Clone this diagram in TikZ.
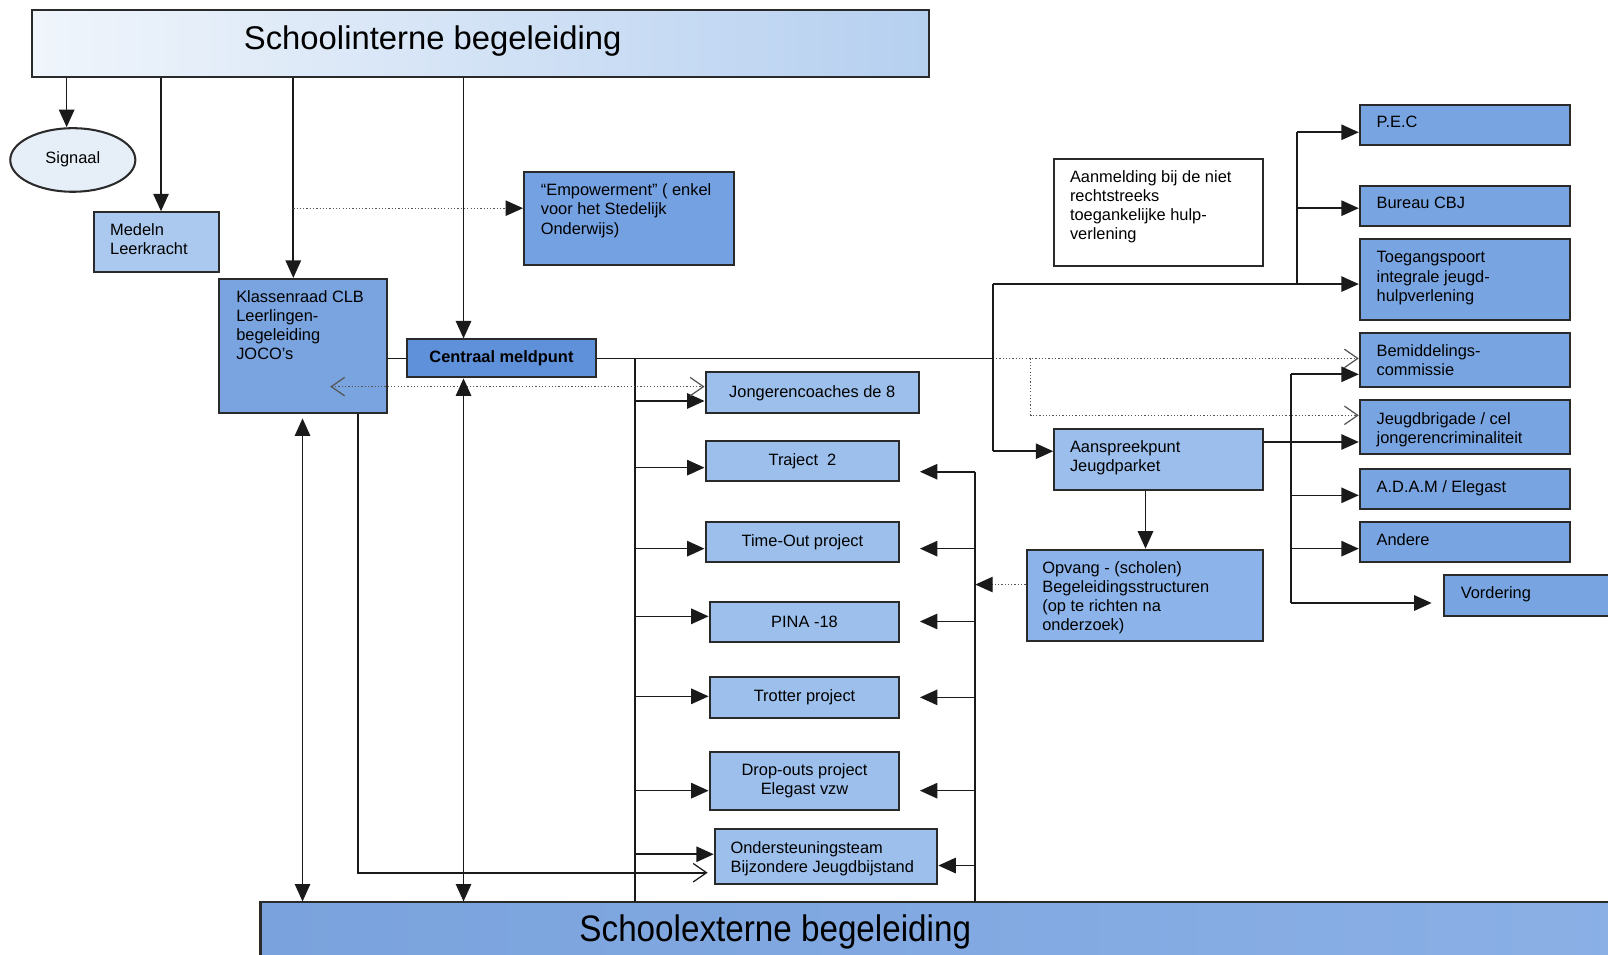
\documentclass[tikz,border=0pt]{standalone}
\usepackage{fontspec}
\setmainfont{Liberation Sans}
\usetikzlibrary{arrows.meta,shapes.geometric}
\definecolor{topL}{HTML}{F0F5FB}
\definecolor{topR}{HTML}{B6D0F0}
\definecolor{botL}{HTML}{7AA2DC}
\definecolor{botR}{HTML}{8AB0E6}
\definecolor{medC}{HTML}{ABC9EE}
\definecolor{klC}{HTML}{79A4E0}
\definecolor{cmC}{HTML}{5F90DA}
\definecolor{empC}{HTML}{74A1E2}
\definecolor{midC}{HTML}{9CBFEC}
\definecolor{rtC}{HTML}{78A5E2}
\definecolor{aspC}{HTML}{9BBEEC}
\definecolor{opvC}{HTML}{8CB4EA}
\definecolor{sigC}{HTML}{E6EFF8}
\definecolor{edgeC}{HTML}{2A2A2A}
\definecolor{lineC}{HTML}{1A1A1A}
\definecolor{dotC}{HTML}{555555}
\newcommand\myBox[7]{%
  \node[#1, minimum width={(#5-#3)*0.5pt}, minimum height={(#6-#4)*0.5pt}] (#2) at ({(#3+#5)/2},{(#4+#6)/2}) {#7};}
\tikzset{
  every node/.style={font=\fontsize{8}{9.3}\selectfont},
  bx/.style={draw=edgeC, line width=1pt, inner sep=0pt, align=center},
  lt/.style={anchor=north west, inner sep=0pt, align=left},
  ln/.style={draw=lineC, line width=0.8pt},
  tipF/.tip={Triangle[length=8.5pt,width=7.5pt]},
  tipO/.tip={Straight Barb[length=6.5pt,width=9pt,line width=0.6pt]},
  arr/.style={ln, -tipF},
  darr/.style={ln, tipF-tipF},
  openarr/.style={ln, -tipO},
  dotF/.style={draw=dotC, line width=0.6pt, densely dotted, -{Triangle[length=8.5pt,width=7.5pt,fill=lineC,color=lineC]}},
  dotO/.style={draw=dotC, line width=0.6pt, densely dotted, -tipO},
  dotOO/.style={draw=dotC, line width=0.6pt, densely dotted, tipO-tipO},
}
\begin{document}
\begin{tikzpicture}[x=0.5pt,y=-0.5pt]
\useasboundingbox (0,0) rectangle (1568,931);
\clip (0,0) rectangle (1568,931);
% title boxes
\myBox{bx, left color=topL, right color=topR}{top}{31}{10}{906}{75}{}
\node[inner sep=0pt, font=\fontsize{16}{19}\selectfont] (topT) at (422,40) {Schoolinterne begeleiding};
\myBox{bx, left color=botL, right color=botR}{bot}{254}{880}{1600}{960}{}
\node[inner sep=0pt, font=\fontsize{18}{21}\selectfont] (botT) at (756,909) {\scalebox{0.9}[1]{Schoolexterne begeleiding}};
% left boxes
\node[ellipse, draw=edgeC, line width=1pt, fill=sigC, minimum width=61pt, minimum height=31pt, inner sep=0pt] (sig) at (71,156) {\raisebox{2pt}{Signaal}};
\myBox{bx, fill=medC}{med}{92}{207}{214}{265}{}
\node[lt] (medT) at (107,218) {Medeln\\Leerkracht};
\myBox{bx, fill=klC}{kl}{214}{272}{377}{403}{}
\node[lt] (klT) at (230,283) {Klassenraad CLB\\Leerlingen-\\begeleiding\\JOCO’s};
\myBox{bx, fill=cmC}{cm}{397}{331}{581}{368}{\textbf{Centraal meldpunt}}
\myBox{bx, fill=empC}{emp}{511}{168}{716}{258}{}
\node[lt] (empT) at (527,179) {“Empowerment” ( enkel\\voor het Stedelijk\\Onderwijs)};
% middle column
\myBox{bx, fill=midC}{jc}{688}{363}{896}{403}{Jongerencoaches de 8}
\myBox{bx, fill=midC}{tr}{688}{430}{877}{469}{Traject\ \ 2}
\myBox{bx, fill=midC}{tout}{688}{509}{877}{548}{Time-Out project}
\myBox{bx, fill=midC}{pina}{692}{587}{877}{626}{PINA -18}
\myBox{bx, fill=midC}{trot}{692}{660}{877}{700}{Trotter project}
\myBox{bx, fill=midC}{drop}{692}{733}{877}{790}{Drop-outs project\\Elegast vzw}
\myBox{bx, fill=midC}{ond}{697}{808}{914}{862}{}
\node[lt] (ondT) at (712,820) {Ondersteuningsteam\\Bijzondere Jeugdbijstand};
% right part
\myBox{bx, fill=white}{aan}{1028}{155}{1232}{259}{}
\node[lt] (aanT) at (1043,166) {Aanmelding bij de niet\\rechtstreeks\\toegankelijke hulp-\\verlening};
\myBox{bx, fill=aspC}{asp}{1028}{418}{1232}{478}{}
\node[lt] (aspT) at (1043,429) {Aanspreekpunt\\Jeugdparket};
\myBox{bx, fill=opvC}{opv}{1001}{536}{1232}{625}{}
\node[lt] (opvT) at (1016,547) {Opvang - (scholen)\\Begeleidingsstructuren\\(op te richten na\\onderzoek)};
\myBox{bx, fill=rtC}{pec}{1326}{102}{1531}{141}{}
\node[lt] (pecT) at (1342,113) {P.E.C};
\myBox{bx, fill=rtC}{cbj}{1326}{181}{1531}{220}{}
\node[lt] (cbjT) at (1342,192) {Bureau CBJ};
\myBox{bx, fill=rtC}{tp}{1326}{233}{1531}{312}{}
\node[lt] (tpT) at (1342,245) {Toegangspoort\\integrale jeugd-\\hulpverlening};
\myBox{bx, fill=rtC}{bem}{1326}{325}{1531}{377}{}
\node[lt] (bemT) at (1342,336) {Bemiddelings-\\commissie};
\myBox{bx, fill=rtC}{jb}{1326}{390}{1531}{443}{}
\node[lt] (jbT) at (1342,402) {Jeugdbrigade / cel\\jongerencriminaliteit};
\myBox{bx, fill=rtC}{adam}{1326}{457}{1531}{496}{}
\node[lt] (adamT) at (1342,468) {A.D.A.M / Elegast};
\myBox{bx, fill=rtC}{andr}{1326}{509}{1531}{548}{}
\node[lt] (andrT) at (1342,520) {Andere};
\myBox{bx, fill=rtC}{vord}{1408}{561}{1600}{601}{}
\node[lt] (vordT) at (1424,572) {Vordering};
% bus coordinates
\coordinate (xA) at (65,0);
\coordinate (xB) at (157,0);
\coordinate (xC) at (286,0);
\coordinate (xD) at (452,0);
\coordinate (xF) at (349,0);
\coordinate (xM) at (1117,0);
\coordinate (hx) at (897,0);
\coordinate (vx) at (1396,0);
% from top box
\draw[arr] (top.south -| xA) -- (sig.north -| xA);
\draw[arr] (top.south -| xB) -- (med.north -| xB);
\draw[arr] (top.south -| xC) -- (kl.north -| xC);
\draw[arr] (top.south -| xD) -- (cm.north -| xD);
\coordinate (eS) at (286,203);
\draw[dotF] (eS) -- (emp.west |- eS);
% klassenraad - centraal
\draw[ln] (kl.east |- cm.west) -- (cm.west);
\coordinate (jI) at (968,349.5);
\draw[ln] (cm.east) -- (jI);
\draw[dotO] (jI) -- (bem.west |- jI);
\coordinate (jJ) at (1005,349.5);
\coordinate (jJ2) at (1005,405);
\draw[dotO] (jJ) -- (jJ2) -- (jb.west |- jJ2);
\coordinate (iT) at (968,277);
\coordinate (iB) at (968,440);
\draw[ln] (iT) -- (iB);
\draw[arr] (iT) -- (tp.west |- iT);
\draw[arr] (iB) -- (asp.west |- iB);
\coordinate (kT) at (1265,129);
\coordinate (kB) at (1265,277);
\coordinate (kM) at (1265,203);
\draw[ln] (kT) -- (kB);
\draw[arr] (kT) -- (pec.west |- kT);
\draw[arr] (kM) -- (cbj.west |- kM);
% left bus
\coordinate (gT) at (619,349.5);
\coordinate (gB) at (619,880);
\draw[ln] (gT) -- (gB);
\foreach \n/\yy in {jc/391, tr/456, tout/535, pina/601, trot/679, drop/771, ond/833}
  \draw[arr] (gT |- 0,\yy) -- (\n.west |- 0,\yy);
\coordinate (kL) at (322,377);
\draw[dotOO] (kL) -- (jc.west |- kL);
% right-middle bus
\coordinate (hT) at (951,460);
\coordinate (hB) at (951,880);
\draw[ln] (hT) -- (hB);
\foreach \yy in {460, 535, 606, 680, 771}
  \draw[arr] (hT |- 0,\yy) -- (hx |- 0,\yy);
\draw[arr] (hT |- 0,844) -- (ond.east |- 0,844);
\draw[dotF] (opv.west |- 0,570) -- (hT |- 0,570);
\draw[arr] (asp.south -| xM) -- (opv.north -| xM);
% jeugdparket bus
\draw[arr] (asp.east |- 0,431) -- (jb.west |- 0,431);
\coordinate (lT) at (1259,365);
\coordinate (lB) at (1259,588);
\draw[ln] (lT) -- (lB);
\draw[arr] (lT) -- (bem.west |- lT);
\draw[arr] (lT |- 0,483) -- (adam.west |- 0,483);
\draw[arr] (lT |- 0,535) -- (andr.west |- 0,535);
\draw[arr] (lB) -- (vx |- lB);
% to schoolexterne
\coordinate (pT) at (295,408);
\draw[darr] (pT) -- (bot.north -| pT);
\draw[darr] (cm.south -| xD) -- (bot.north -| xD);
\coordinate (rE) at (690,851);
\draw[openarr] (kl.south -| xF) |- (rE);
\end{tikzpicture}
\end{document}
